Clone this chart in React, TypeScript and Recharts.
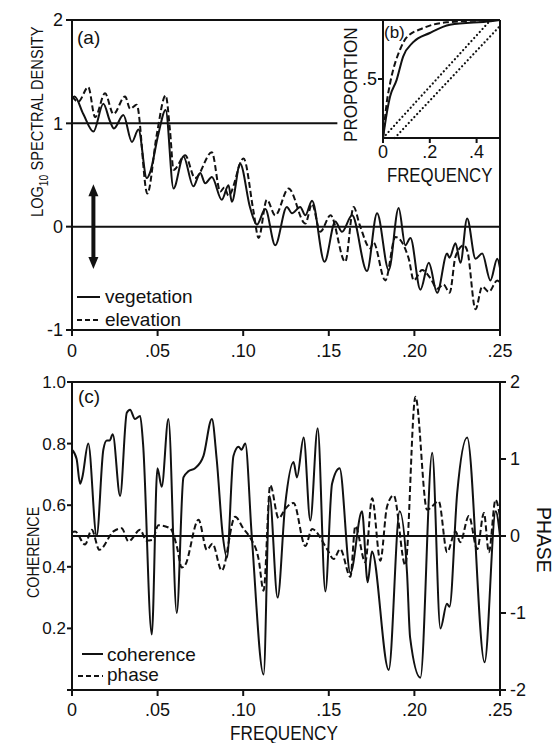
import React from "react";
import { LineChart, Line, XAxis, YAxis, ReferenceLine, ReferenceDot } from "recharts";

const FONT = "'Liberation Sans', Arial, sans-serif";
const INK = "#111";

const FREQ_TICKS = [0, 0.05, 0.1, 0.15, 0.2, 0.25];
const LOG_TICKS = [-1, 0, 1, 2];
const COH_TICKS = [0, 0.2, 0.4, 0.6, 0.8, 1.0];
const PHASE_TICKS = [-2, -1, 0, 1, 2];
const INSET_X_TICKS = [0, 0.2, 0.4];
const INSET_Y_TICKS = [0.5];

// (a) log10 spectral density, [frequency, value]
const VEGETATION = [
  [0, 1.24], [0.0015, 1.26], [0.0066, 1.09], [0.0125, 0.92], [0.0183, 1.19], [0.0222, 1.02],
  [0.0245, 0.95], [0.03, 1.08], [0.035, 0.82], [0.0388, 0.94], [0.0437, 0.47], [0.0455, 0.52],
  [0.0505, 0.9], [0.0547, 1.13], [0.0593, 0.37], [0.0651, 0.68], [0.0709, 0.39], [0.0749, 0.52],
  [0.0778, 0.42], [0.0817, 0.48], [0.0875, 0.26], [0.0914, 0.4], [0.0934, 0.24], [0.0982, 0.61],
  [0.1041, 0.18], [0.108, 0.02], [0.1129, 0.17], [0.1187, -0.18], [0.1255, 0.19], [0.1285, 0.13],
  [0.1333, 0.19], [0.1363, 0.11], [0.1402, 0.25], [0.1475, -0.34], [0.1538, 0.05], [0.1577, -0.05],
  [0.1636, 0.11], [0.1723, -0.43], [0.1782, 0.13], [0.185, -0.42], [0.1908, 0.18], [0.1947, -0.18],
  [0.1977, -0.11], [0.2035, -0.61], [0.2084, -0.35], [0.2133, -0.64], [0.2191, -0.26], [0.2205, -0.3],
  [0.224, -0.16], [0.2269, -0.35], [0.2308, 0.08], [0.2357, -0.31], [0.2396, -0.26], [0.2444, -0.52],
  [0.2484, -0.31], [0.25, -0.4],
];
const ELEVATION = [
  [0, 1.26], [0.0037, 1.21], [0.0095, 1.35], [0.0135, 1.06], [0.0193, 1.29], [0.0242, 1.09],
  [0.031, 1.26], [0.034, 1.14], [0.0378, 1.18], [0.044, 0.32], [0.0495, 0.89], [0.0547, 1.27],
  [0.0573, 0.92], [0.0593, 0.55], [0.0661, 0.69], [0.0719, 0.47], [0.0817, 0.72], [0.0866, 0.34],
  [0.089, 0.38], [0.0914, 0.3], [0.1002, 0.66], [0.106, 0.15], [0.109, -0.11], [0.1138, 0.26],
  [0.1187, 0.11], [0.1265, 0.37], [0.1363, 0.03], [0.1402, 0.22], [0.145, -0.05], [0.151, 0.11],
  [0.1596, -0.34], [0.1645, 0.19], [0.168, 0.02], [0.1743, -0.21], [0.176, -0.15], [0.183, -0.52],
  [0.1889, -0.1], [0.1967, -0.31], [0.1996, -0.52], [0.2045, -0.42], [0.2094, -0.5], [0.2133, -0.6],
  [0.217, -0.56], [0.2206, -0.64], [0.224, -0.29], [0.2288, -0.18], [0.231, -0.24], [0.2357, -0.8],
  [0.2396, -0.58], [0.2435, -0.63], [0.2484, -0.52], [0.25, -0.55],
];

// (b) cumulative proportion of variance, [frequency, proportion]
const VEG_CUMULATIVE = [
  [0, 0], [0.016, 0.21], [0.03, 0.35], [0.058, 0.49], [0.086, 0.69], [0.128, 0.81],
  [0.2, 0.89], [0.286, 0.96], [0.46, 0.99], [0.5, 1],
];
const ELEV_CUMULATIVE = [
  [0, 0], [0.016, 0.3], [0.03, 0.46], [0.073, 0.75], [0.1, 0.85], [0.17, 0.93],
  [0.27, 0.98], [0.5, 1],
];
const WHITE_NOISE_A = [[0, 0], [0.46, 1]];
const WHITE_NOISE_B = [[0.05, 0], [0.5, 0.95]];

// (c) coherence and phase, [frequency, value]
const COHERENCE = [
  [0, 0.78], [0.0027, 0.75], [0.0047, 0.67], [0.006, 0.69], [0.0095, 0.8], [0.0144, 0.5],
  [0.0183, 0.78], [0.0203, 0.81], [0.022, 0.81], [0.0238, 0.83], [0.0281, 0.63], [0.032, 0.9],
  [0.0339, 0.91], [0.0368, 0.88], [0.0398, 0.89], [0.0415, 0.8], [0.0466, 0.18], [0.0499, 0.72],
  [0.0524, 0.66], [0.0563, 0.88], [0.0612, 0.25], [0.0651, 0.69], [0.068, 0.71], [0.0719, 0.72],
  [0.0768, 0.76], [0.0817, 0.88], [0.0845, 0.75], [0.0881, 0.5], [0.0905, 0.43], [0.0943, 0.76],
  [0.0973, 0.79], [0.099, 0.78], [0.1012, 0.8], [0.105, 0.5], [0.1119, 0.05], [0.1154, 0.63],
  [0.1201, 0.3], [0.1245, 0.6], [0.1294, 0.74], [0.1314, 0.69], [0.1353, 0.82], [0.1392, 0.55],
  [0.1435, 0.85], [0.148, 0.32], [0.1519, 0.67], [0.1563, 0.72], [0.1626, 0.38], [0.1694, 0.58],
  [0.1727, 0.35], [0.1752, 0.45], [0.185, 0.065], [0.1914, 0.58], [0.1957, 0.38], [0.1975, 0.17],
  [0.2035, 0.04], [0.2104, 0.77], [0.2152, 0.2], [0.219, 0.28], [0.2205, 0.27], [0.225, 0.64],
  [0.2308, 0.82], [0.241, 0.09], [0.2475, 0.58], [0.25, 0.5],
];
const PHASE = [
  [0, 0.05], [0.0018, 0.06], [0.0076, -0.11], [0.0115, 0.08], [0.016, -0.18], [0.0242, 0.06],
  [0.029, 0.1], [0.033, -0.07], [0.0398, 0.08], [0.0435, -0.06], [0.047, -0.05], [0.0505, 0.14],
  [0.0573, 0.1], [0.0612, -0.13], [0.0641, -0.41], [0.066, -0.38], [0.0739, 0.21], [0.0788, -0.18],
  [0.082, -0.1], [0.0875, -0.45], [0.0953, 0.25], [0.1, 0.1], [0.104, -0.02], [0.109, -0.3],
  [0.1119, -0.71], [0.1158, 0.66], [0.1207, 0.23], [0.1245, 0.35], [0.1294, 0.43], [0.1363, -0.13],
  [0.1402, 0.09], [0.149, -0.17], [0.1528, -0.3], [0.1567, -0.17], [0.1626, -0.53], [0.1655, 0.13],
  [0.1713, -0.34], [0.1753, 0.49], [0.1801, -0.32], [0.184, 0.38], [0.1879, 0.53], [0.1947, -0.38],
  [0.2006, 1.81], [0.2074, 0.34], [0.2142, 0.45], [0.2191, -0.21], [0.224, 0.06], [0.2268, -0.08],
  [0.2318, 0.26], [0.2367, -0.17], [0.2406, 0.3], [0.2435, -0.21], [0.2474, 0.47], [0.25, 0.25],
];

// confidence bar drawn in (a)
const CI_FREQ = 0.0125;
const CI_HALF = 0.41;

const pts = (arr: number[][]) => arr.map(([f, v]) => ({ f, v }));

const fmtFreq = (f: number) => (f === 0 ? "0" : f.toFixed(2).slice(1));
const fmtCoh = (c: number) => (c === 0 ? "" : c.toFixed(1));
const fmtInsetX = (f: number) => (f === 0 ? "0" : f.toFixed(1).slice(1));
const fmtInsetY = (p: number) => p.toFixed(1).slice(1);

const tick = { fill: INK, fontSize: 18, fontFamily: FONT };
const tickSmall = { fill: INK, fontSize: 17, fontFamily: FONT };
const stroke = { stroke: INK, strokeWidth: 2 };

function ArrowHead({ cx, cy, up }: { cx?: number; cy?: number; up: boolean }) {
  if (cx == null || cy == null) return null;
  const s = up ? 1 : -1;
  return <path d={`M${cx},${cy} L${cx - 5},${cy + s * 12} L${cx + 5},${cy + s * 12} Z`} fill={INK} />;
}

function SpectraPanel() {
  return (
    <LineChart width={554} height={370} margin={{ top: 20, right: 54, bottom: 10, left: 42 }}>
      <XAxis type="number" dataKey="f" domain={[0, 0.25]} ticks={FREQ_TICKS} tickFormatter={fmtFreq}
        tick={tick} axisLine={stroke} tickLine={stroke} tickSize={6} tickMargin={8} height={30} />
      <YAxis type="number" domain={[-1, 2]} ticks={LOG_TICKS} tick={tick} axisLine={stroke}
        tickLine={stroke} tickSize={6} tickMargin={3} width={30} />
      <ReferenceLine y={2} {...stroke} />
      <ReferenceLine x={0.25} {...stroke} />
      <ReferenceLine y={0} {...stroke} />
      <ReferenceLine segment={[{ x: 0, y: 1 }, { x: 0.155, y: 1 }]} {...stroke} />
      <ReferenceLine segment={[{ x: CI_FREQ, y: CI_HALF - 0.08 }, { x: CI_FREQ, y: -CI_HALF + 0.08 }]}
        stroke={INK} strokeWidth={4} />
      <ReferenceDot x={CI_FREQ} y={CI_HALF} shape={(p: any) => <ArrowHead cx={p.cx} cy={p.cy} up />} />
      <ReferenceDot x={CI_FREQ} y={-CI_HALF} shape={(p: any) => <ArrowHead cx={p.cx} cy={p.cy} up={false} />} />
      <Line data={pts(ELEVATION)} dataKey="v" type="monotone" stroke={INK} strokeWidth={2}
        strokeDasharray="6 3" dot={false} isAnimationActive={false} />
      <Line data={pts(VEGETATION)} dataKey="v" type="monotone" stroke={INK} strokeWidth={2}
        dot={false} isAnimationActive={false} />
    </LineChart>
  );
}

function CumulativeInset() {
  return (
    <LineChart width={175} height={185} margin={{ top: 20, right: 5, bottom: 2, left: 13 }}>
      <XAxis type="number" dataKey="f" domain={[0, 0.5]} ticks={INSET_X_TICKS} tickFormatter={fmtInsetX}
        tick={tick} axisLine={stroke} tickLine={stroke} tickSize={5} tickMargin={2} height={45} />
      <YAxis type="number" domain={[0, 1]} ticks={INSET_Y_TICKS} tickFormatter={fmtInsetY} tick={tick}
        axisLine={stroke} tickLine={stroke} tickSize={5} tickMargin={1} width={40} />
      <Line data={pts(WHITE_NOISE_A)} dataKey="v" type="linear" stroke={INK} strokeWidth={2.2}
        strokeDasharray="0.1 4" strokeLinecap="round" dot={false} isAnimationActive={false} />
      <Line data={pts(WHITE_NOISE_B)} dataKey="v" type="linear" stroke={INK} strokeWidth={2.2}
        strokeDasharray="0.1 4" strokeLinecap="round" dot={false} isAnimationActive={false} />
      <Line data={pts(ELEV_CUMULATIVE)} dataKey="v" type="monotone" stroke={INK} strokeWidth={2}
        strokeDasharray="6 3" dot={false} isAnimationActive={false} />
      <Line data={pts(VEG_CUMULATIVE)} dataKey="v" type="monotone" stroke={INK} strokeWidth={2}
        dot={false} isAnimationActive={false} />
    </LineChart>
  );
}

function CoherencePanel() {
  return (
    <LineChart width={554} height={383} margin={{ top: 22, right: 24, bottom: 18, left: 42 }}>
      <XAxis type="number" dataKey="f" domain={[0, 0.25]} ticks={FREQ_TICKS} tickFormatter={fmtFreq}
        tick={tick} axisLine={stroke} tickLine={stroke} tickSize={6} tickMargin={7} height={35} />
      <YAxis yAxisId="coh" type="number" domain={[0, 1]} ticks={COH_TICKS} tickFormatter={fmtCoh}
        tick={tickSmall} axisLine={stroke} tickLine={stroke} tickSize={5} tickMargin={1} width={30} />
      <YAxis yAxisId="ph" orientation="right" type="number" domain={[-2, 2]} ticks={PHASE_TICKS}
        tick={tick} axisLine={stroke} tickLine={stroke} tickSize={6} tickMargin={4} width={30} />
      <ReferenceLine yAxisId="coh" y={1} {...stroke} />
      <ReferenceLine yAxisId="ph" y={0} {...stroke} />
      <Line yAxisId="ph" data={pts(PHASE)} dataKey="v" type="monotone" stroke={INK} strokeWidth={2}
        strokeDasharray="6 3" dot={false} isAnimationActive={false} />
      <Line yAxisId="coh" data={pts(COHERENCE)} dataKey="v" type="monotone" stroke={INK} strokeWidth={2}
        dot={false} isAnimationActive={false} />
    </LineChart>
  );
}

function Annotations() {
  const t = { fill: INK, fontFamily: FONT };
  return (
    <svg width={554} height={743} style={{ position: "absolute", left: 0, top: 0, pointerEvents: "none" }}>
      <g transform="translate(43,217) rotate(-90) scale(0.86,1)">
        <text {...t} fontSize={17}>
          LOG<tspan dy={5} fontSize={12}>10</tspan><tspan dy={-5}> SPECTRAL DENSITY</tspan>
        </text>
      </g>
      <text {...t} x={77} y={44} fontSize={19}>(a)</text>
      <line x1={77} x2={100} y1={297} y2={297} {...stroke} />
      <text {...t} x={105} y={303} fontSize={19}>vegetation</text>
      <line x1={77} x2={100} y1={320} y2={320} {...stroke} strokeDasharray="5 3" />
      <text {...t} x={105} y={326} fontSize={19}>elevation</text>

      <text {...t} x={384} y={38} fontSize={17}>(b)</text>
      <g transform="translate(357,142) rotate(-90) scale(0.9,1)">
        <text {...t} fontSize={19}>PROPORTION</text>
      </g>
      <g transform="translate(387,182) scale(0.84,1)">
        <text {...t} fontSize={20}>FREQUENCY</text>
      </g>

      <text {...t} x={78} y={403} fontSize={19}>(c)</text>
      <g transform="translate(39,598) rotate(-90) scale(0.84,1)">
        <text {...t} fontSize={17}>COHERENCE</text>
      </g>
      <g transform="translate(537,507) rotate(90) scale(0.97,1)">
        <text {...t} fontSize={20}>PHASE</text>
      </g>
      <line x1={82} x2={103} y1={654} y2={654} {...stroke} />
      <text {...t} x={107} y={661} fontSize={19}>coherence</text>
      <line x1={78} x2={103} y1={676} y2={676} {...stroke} strokeDasharray="5 3" />
      <text {...t} x={107} y={681} fontSize={19}>phase</text>
      <g transform="translate(230,740) scale(0.86,1)">
        <text {...t} fontSize={20}>FREQUENCY</text>
      </g>
    </svg>
  );
}

export default function App() {
  return (
    <div style={{ position: "absolute", left: 0, top: 0, width: 554, height: 743, background: "#fff", fontFamily: FONT }}>
      <div style={{ position: "absolute", left: 0, top: 0 }}>
        <SpectraPanel />
      </div>
      <div style={{ position: "absolute", left: 330, top: 0 }}>
        <CumulativeInset />
      </div>
      <div style={{ position: "absolute", left: 0, top: 360 }}>
        <CoherencePanel />
      </div>
      <Annotations />
    </div>
  );
}
